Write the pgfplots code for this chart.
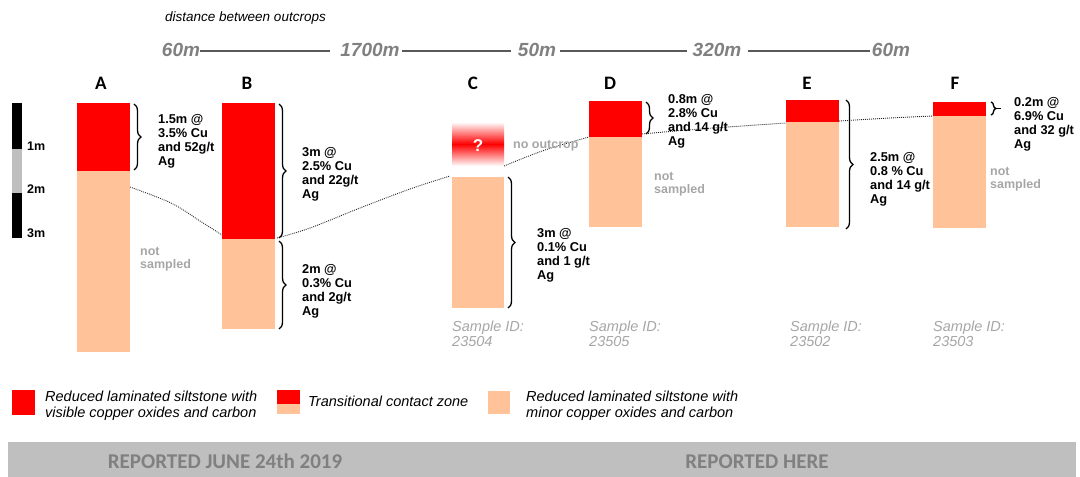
\documentclass[border=0pt]{standalone}
\usepackage{pgfplots}
\pgfplotsset{compat=1.18}
\usepackage{fontspec}
\setmainfont{Liberation Sans}
\newfontfamily\calib{Carlito}
\usetikzlibrary{decorations.pathreplacing}
\definecolor{cred}{RGB}{255,0,0}
\definecolor{salmon}{RGB}{255,194,153}
\definecolor{lgray}{RGB}{166,166,166}
\definecolor{dgray}{RGB}{128,128,128}
\definecolor{bgray}{RGB}{191,191,191}
\definecolor{lgrayline}{RGB}{89,89,89}
\newcommand\rect[5]{\addplot[fill=#5,draw=none] coordinates {(#1,#3) (#2,#3) (#2,#4) (#1,#4)} -- cycle;}
\tikzset{
 br/.style={decorate,decoration={brace,amplitude=7pt,raise=0pt},line width=1.3pt},
 lab/.style={anchor=north west,inner sep=0,align=left,font=\fontsize{12.8}{13.8}\selectfont\bfseries},
 ns/.style={anchor=north west,inner sep=0,align=left,text=lgray,font=\fontsize{12.5}{13.5}\selectfont\bfseries},
 sid/.style={anchor=base west,inner sep=0,text=lgray,font=\fontsize{14.5}{15}\selectfont\itshape},
 let/.style={anchor=base,inner sep=0,font=\fontsize{19}{20}\selectfont\calib\bfseries},
 dist/.style={anchor=base,inner sep=0,text=dgray,font=\fontsize{19}{20}\selectfont\bfseries\itshape},
 ban/.style={anchor=base,inner sep=0,text=dgray,font=\fontsize{21}{22}\selectfont\calib\bfseries},
 dots/.style={draw=black!85,line width=0.9pt,dash pattern=on 0.9pt off 1.1pt,smooth,tension=0.6,mark=none}
}
\begin{document}
\begin{tikzpicture}
\begin{axis}[width=1080pt,height=477pt,scale only axis,xmin=0,xmax=1080,ymin=0,ymax=477,
 y dir=reverse,hide axis,clip=false]
\path (axis cs:0,0) rectangle (axis cs:1080,477);
% scale bar
\rect{12}{22}{103}{149}{black}
\rect{12}{22}{149}{193}{bgray}
\rect{12}{22}{193}{238}{black}
% column A
\rect{77}{130}{103}{171}{cred}
\rect{77}{130}{171}{352}{salmon}
% column B
\rect{222}{275}{103}{239}{cred}
\rect{222}{275}{239}{329}{salmon}
% column C
\addplot[draw=none,top color=white,bottom color=white,middle color=cred] coordinates {(452,122) (504,122) (504,166) (452,166)} -- cycle;
\rect{452}{504}{177}{308}{salmon}
% column D
\rect{589}{642}{101}{137}{cred}
\rect{589}{642}{137}{227}{salmon}
% column E
\rect{786}{839}{100}{122}{cred}
\rect{786}{839}{122}{227}{salmon}
% column F
\rect{933}{986}{102}{116}{cred}
\rect{933}{986}{116}{228}{salmon}
% dotted correlation lines
\addplot[dots] coordinates {(130,187) (171,203) (200,221) (222,235)};
\addplot[dots] coordinates {(277,238) (310,228) (360,208) (410,189) (450,176)};
\addplot[dots] coordinates {(504,166) (545,150) (589,137)};
\addplot[dots] coordinates {(642,134) (700,129) (786,123)};
\addplot[dots] coordinates {(839,121) (890,118) (933,116)};
% legend squares
\rect{12}{35}{390}{415}{cred}
\rect{277}{300}{390}{404}{cred}
\rect{277}{300}{404}{414}{salmon}
\rect{488}{510}{391}{414}{salmon}
% banner
\rect{8}{1076}{442}{477}{bgray}
% braces
\draw[br] (axis cs:134,104) -- (axis cs:134,170);
\draw[br] (axis cs:279,104) -- (axis cs:279,238);
\draw[br] (axis cs:279,241) -- (axis cs:279,329);
\draw[br] (axis cs:508,177) -- (axis cs:508,308);
\draw[br] (axis cs:646,102) -- (axis cs:646,134);
\draw[br] (axis cs:846,100) -- (axis cs:846,229);
\draw[br,decoration={brace,amplitude=5pt}] (axis cs:991,102) -- (axis cs:991,115);
\draw[line width=1.3pt] (axis cs:996,108.5) -- (axis cs:1001,108.5);
% scale labels
\node[anchor=base west,inner sep=0,font=\fontsize{12.5}{13}\selectfont\bfseries] at (axis cs:27,150.5) {1m};
\node[anchor=base west,inner sep=0,font=\fontsize{12.5}{13}\selectfont\bfseries] at (axis cs:27,193.5) {2m};
\node[anchor=base west,inner sep=0,font=\fontsize{12.5}{13}\selectfont\bfseries] at (axis cs:27,237.5) {3m};
% column letters
\node[let] at (axis cs:101,89) {A};
\node[let] at (axis cs:247,89) {B};
\node[let] at (axis cs:473,89) {C};
\node[let] at (axis cs:610,89) {D};
\node[let] at (axis cs:807,89) {E};
\node[let] at (axis cs:955,89) {F};
% distances
\node[anchor=base west,inner sep=0,font=\fontsize{13.5}{14}\selectfont\itshape] at (axis cs:165,21) {distance between outcrops};
\node[dist] at (axis cs:181,56) {60m};
\node[dist] at (axis cs:370,56) {1700m};
\node[dist] at (axis cs:537,56) {50m};
\node[dist] at (axis cs:717,56) {320m};
\node[dist] at (axis cs:891,56) {60m};
\draw[lgrayline,line width=2pt] (axis cs:200,51) -- (axis cs:330,51);
\draw[lgrayline,line width=2pt] (axis cs:402,51) -- (axis cs:511,51);
\draw[lgrayline,line width=2pt] (axis cs:560,51) -- (axis cs:687,51);
\draw[lgrayline,line width=2pt] (axis cs:748,51) -- (axis cs:870,51);
% assay labels
\node[lab] at (axis cs:158,114.5) {1.5m @\\3.5\% Cu\\and 52g/t\\Ag};
\node[lab] at (axis cs:302,147.5) {3m @\\2.5\% Cu\\and 22g/t\\Ag};
\node[lab] at (axis cs:302,264.5) {2m @\\0.3\% Cu\\and 2g/t\\Ag};
\node[lab] at (axis cs:537,228.5) {3m @\\0.1\% Cu\\and 1 g/t\\Ag};
\node[lab] at (axis cs:668,94.5) {0.8m @\\2.8\% Cu\\and 14 g/t\\Ag};
\node[lab] at (axis cs:870,152.5) {2.5m @\\0.8 \% Cu\\and 14 g/t\\Ag};
\node[lab] at (axis cs:1014,97.5) {0.2m @\\6.9\% Cu\\and 32 g/t\\Ag};
% not sampled
\node[ns] at (axis cs:140,247) {not\\sampled};
\node[ns] at (axis cs:654,172) {not\\sampled};
\node[ns] at (axis cs:990,167) {not\\sampled};
\node[anchor=base west,inner sep=0,text=lgray,font=\fontsize{12.5}{13}\selectfont\bfseries] at (axis cs:513,148.5) {no outcrop};
\node[anchor=center,inner sep=0,text=white,font=\fontsize{17}{17}\selectfont\bfseries] at (axis cs:478,146) {?};
% sample IDs
\node[sid] at (axis cs:452,331) {Sample ID:};
\node[sid] at (axis cs:452,346) {23504};
\node[sid] at (axis cs:589,331) {Sample ID:};
\node[sid] at (axis cs:589,346) {23505};
\node[sid] at (axis cs:790,331) {Sample ID:};
\node[sid] at (axis cs:790,346) {23502};
\node[sid] at (axis cs:933,331) {Sample ID:};
\node[sid] at (axis cs:933,346) {23503};
% legend text
\node[anchor=north west,inner sep=0,align=left,font=\fontsize{14.5}{16.5}\selectfont\itshape] at (axis cs:45,390.5) {Reduced laminated siltstone with\\visible copper oxides and carbon};
\node[anchor=base west,inner sep=0,font=\fontsize{14.5}{16.5}\selectfont\itshape] at (axis cs:308,406.5) {Transitional contact zone};
\node[anchor=north west,inner sep=0,align=left,font=\fontsize{14.5}{16.5}\selectfont\itshape] at (axis cs:526,390.5) {Reduced laminated siltstone with\\minor copper oxides and carbon};
% banner text
\node[ban] at (axis cs:225,468) {REPORTED JUNE 24th 2019};
\node[ban] at (axis cs:757,468) {REPORTED HERE};
\end{axis}
\end{tikzpicture}
\end{document}
